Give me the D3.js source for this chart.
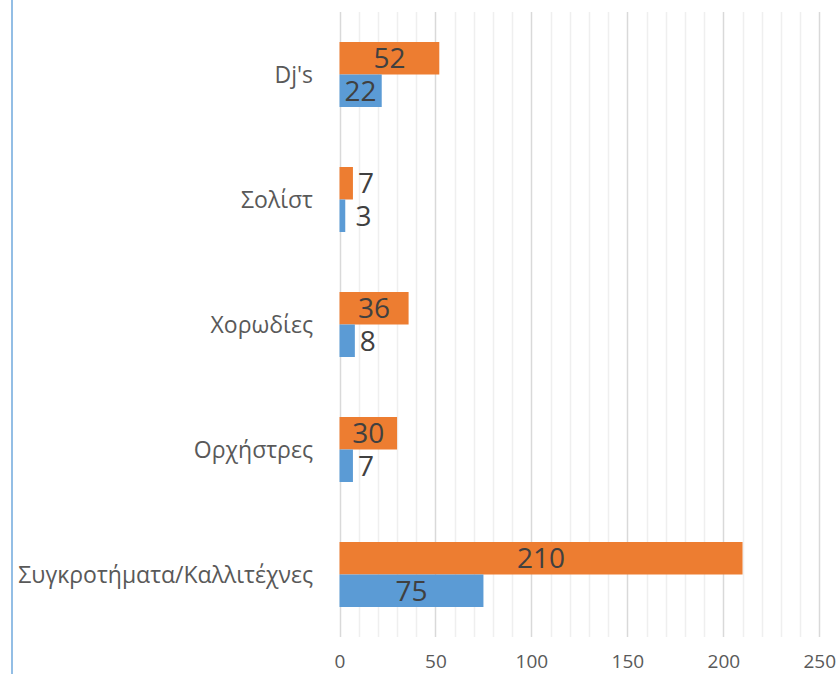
<!DOCTYPE html>
<html>
<head>
<meta charset="utf-8">
<script src="https://cdn.jsdelivr.net/npm/d3@7"></script>
<style>
  html, body { margin: 0; padding: 0; background: #fff; }
  svg { display: block; }
</style>
</head>
<body>
<svg id="chart" width="839" height="674"></svg>
<script>
const categories = ["Dj's", "Σολίστ", "Χορωδίες", "Ορχήστρες", "Συγκροτήματα/Καλλιτέχνες"];
const seriesOrange = [52, 7, 36, 30, 210];
const seriesBlue = [22, 3, 8, 7, 75];
const xTicks = [0, 50, 100, 150, 200, 250];

const svg = d3.select("#chart");
const W = 839, H = 674;
const plot = { left: 339.5, right: 819.3, top: 12, bottom: 637 };
const FONT = "'Open Sans', 'Noto Sans', sans-serif";

const x = d3.scaleLinear().domain([0, 250]).range([plot.left, plot.right]);
const y0 = d3.scaleBand().domain(categories).range([plot.top, plot.bottom]).padding(0);
const y1 = d3.scaleBand().domain(["orange", "blue"]).range([0, y0.bandwidth()])
  .paddingInner(0).paddingOuter(0.923);

// left blue border line
svg.append("line").attr("x1", 12).attr("x2", 12).attr("y1", 0).attr("y2", H)
  .attr("stroke", "#6fa8dc").attr("stroke-width", 1.5);

// minor gridlines
const minor = d3.range(10, 250, 10).filter(v => v % 50 !== 0);
svg.append("g").selectAll("line").data(minor).join("line")
  .attr("x1", d => Math.round(x(d)) + 0.5).attr("x2", d => Math.round(x(d)) + 0.5)
  .attr("y1", plot.top).attr("y2", plot.bottom)
  .attr("stroke", "#efefef").attr("stroke-width", 1.5);

// major gridlines
svg.append("g").selectAll("line").data(xTicks).join("line")
  .attr("x1", d => Math.round(x(d)) + 0.5).attr("x2", d => Math.round(x(d)) + 0.5)
  .attr("y1", plot.top).attr("y2", plot.bottom)
  .attr("stroke", "#d9d9d9").attr("stroke-width", 1.5);

// x axis labels
const xAxis = d3.axisBottom(x).tickValues(xTicks).tickSize(0).tickPadding(0);
const gx = svg.append("g").attr("transform", `translate(0, 654)`).call(xAxis);
gx.select(".domain").remove();
gx.selectAll("text").attr("font-family", FONT).attr("font-size", 19)
  .attr("fill", "#595959").attr("dy", "0.71em").attr("y", 0);

// category labels
const yAxis = d3.axisLeft(y0).tickSize(0).tickPadding(0);
const gy = svg.append("g").attr("transform", `translate(313, 0)`).call(yAxis);
gy.select(".domain").remove();
gy.selectAll("text").attr("font-family", FONT).attr("font-size", 23)
  .attr("fill", "#595959").attr("dy", "0.35em");

// bars
const data = [];
categories.forEach((c, i) => {
  data.push({ cat: c, key: "orange", value: seriesOrange[i], color: "#ed7d31" });
  data.push({ cat: c, key: "blue", value: seriesBlue[i], color: "#5b9bd5" });
});

svg.append("g").selectAll("rect").data(data).join("rect")
  .attr("x", x(0))
  .attr("y", d => y0(d.cat) + y1(d.key))
  .attr("width", d => x(d.value) - x(0))
  .attr("height", y1.bandwidth())
  .attr("fill", d => d.color);

// value labels
const labels = svg.append("g").selectAll("text").data(data).join("text")
  .attr("font-family", FONT).attr("font-size", 28).attr("fill", "#404040")
  .attr("dy", "0.36em")
  .attr("y", d => y0(d.cat) + y1(d.key) + y1.bandwidth() / 2)
  .text(d => d.value);

labels.each(function(d) {
  const t = d3.select(this);
  const w = this.getComputedTextLength();
  const barW = x(d.value) - x(0);
  if (w > barW - 4) {
    t.attr("text-anchor", "start").attr("x", Math.max(x(d.value) + 5, x(0) + 16));
  } else {
    t.attr("text-anchor", "middle").attr("x", x(0) + barW / 2);
  }
});
</script>
</body>
</html>
